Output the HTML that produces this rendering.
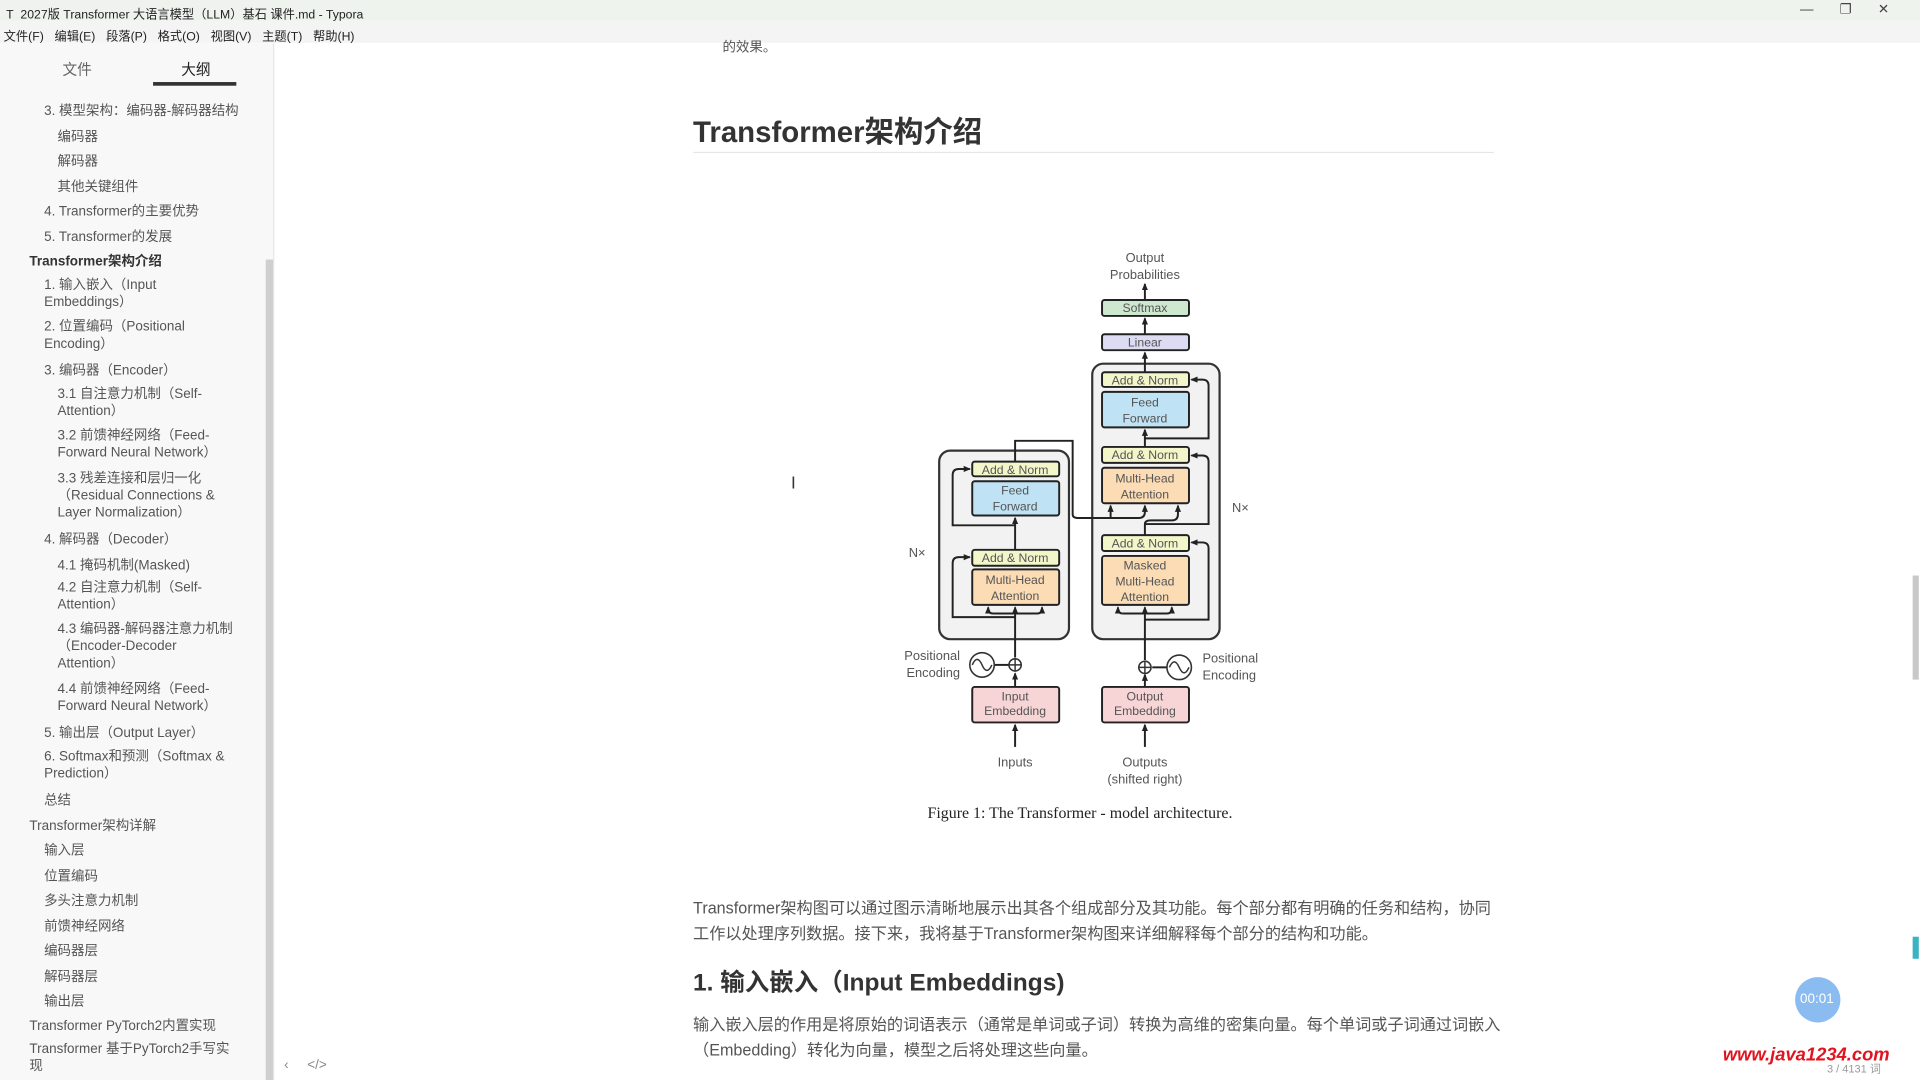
<!DOCTYPE html>
<html><head><meta charset="utf-8"><style>
html,body{margin:0;padding:0;width:1920px;height:1080px;overflow:hidden;background:#fff}
#w{position:absolute;left:0;top:0;width:1568px;height:882px;transform:scale(1.22449);transform-origin:0 0;font-family:"Liberation Sans","Noto Sans CJK SC",sans-serif;color:#333}
.a{position:absolute;white-space:nowrap}
.side .a{font-size:11px;color:#555}
</style></head><body><div id="w">
<div class="a" style="left:0;top:0;width:1568px;height:17px;background:#eef3ee"></div>
<div class="a" style="left:5px;top:3px;font-size:10px;color:#222">T&nbsp;&nbsp;2027版 Transformer 大语言模型（LLM）基石 课件.md - Typora</div>
<div class="a" style="left:1470px;top:1px;font-size:11px;color:#444">—&nbsp;&nbsp;&nbsp;&nbsp;&nbsp;&nbsp;&nbsp;❐&nbsp;&nbsp;&nbsp;&nbsp;&nbsp;&nbsp;&nbsp;✕</div>
<div class="a" style="left:0;top:17px;width:1568px;height:18px;background:#f4f4f4"></div>
<div class="a" style="left:3px;top:21px;font-size:10px;color:#222;word-spacing:6px">文件(F) 编辑(E) 段落(P) 格式(O) 视图(V) 主题(T) 帮助(H)</div>
<div class="side">
<div class="a" style="left:0;top:35px;width:223px;height:847px;background:#f8f8f8;border-right:1px solid #e6e6e6"></div>
<div class="a" style="left:217px;top:212px;width:6px;height:670px;background:#cfcfcf"></div>
<div class="a" style="left:51px;top:48px;font-size:12px;color:#666">文件</div>
<div class="a" style="left:148px;top:48px;font-size:12px;color:#222">大纲</div>
<div class="a" style="left:125px;top:67px;width:68px;height:3px;background:#333"></div>
<div class="a" style="left:36px;top:82px">3. 模型架构：编码器-解码器结构</div>
<div class="a" style="left:47px;top:103px">编码器</div>
<div class="a" style="left:47px;top:123px">解码器</div>
<div class="a" style="left:47px;top:144px">其他关键组件</div>
<div class="a" style="left:36px;top:164px">4. Transformer的主要优势</div>
<div class="a" style="left:36px;top:185px">5. Transformer的发展</div>
<div class="a" style="left:24px;top:205px;font-weight:bold;color:#333">Transformer架构介绍</div>
<div class="a" style="left:36px;top:226px;line-height:14px">1. 输入嵌入（Input<br>Embeddings）</div>
<div class="a" style="left:36px;top:260px;line-height:14px">2. 位置编码（Positional<br>Encoding）</div>
<div class="a" style="left:36px;top:294px">3. 编码器（Encoder）</div>
<div class="a" style="left:47px;top:315px;line-height:14px">3.1 自注意力机制（Self-<br>Attention）</div>
<div class="a" style="left:47px;top:349px;line-height:14px">3.2 前馈神经网络（Feed-<br>Forward Neural Network）</div>
<div class="a" style="left:47px;top:384px;line-height:14px">3.3 残差连接和层归一化<br>（Residual Connections &amp;<br>Layer Normalization）</div>
<div class="a" style="left:36px;top:432px">4. 解码器（Decoder）</div>
<div class="a" style="left:47px;top:453px">4.1 掩码机制(Masked)</div>
<div class="a" style="left:47px;top:473px;line-height:14px">4.2 自注意力机制（Self-<br>Attention）</div>
<div class="a" style="left:47px;top:507px;line-height:14px">4.3 编码器-解码器注意力机制<br>（Encoder-Decoder<br>Attention）</div>
<div class="a" style="left:47px;top:556px;line-height:14px">4.4 前馈神经网络（Feed-<br>Forward Neural Network）</div>
<div class="a" style="left:36px;top:590px">5. 输出层（Output Layer）</div>
<div class="a" style="left:36px;top:611px;line-height:14px">6. Softmax和预测（Softmax &amp;<br>Prediction）</div>
<div class="a" style="left:36px;top:645px">总结</div>
<div class="a" style="left:24px;top:666px">Transformer架构详解</div>
<div class="a" style="left:36px;top:686px">输入层</div>
<div class="a" style="left:36px;top:707px">位置编码</div>
<div class="a" style="left:36px;top:727px">多头注意力机制</div>
<div class="a" style="left:36px;top:748px">前馈神经网络</div>
<div class="a" style="left:36px;top:768px">编码器层</div>
<div class="a" style="left:36px;top:789px">解码器层</div>
<div class="a" style="left:36px;top:809px">输出层</div>
<div class="a" style="left:24px;top:829px">Transformer PyTorch2内置实现</div>
<div class="a" style="left:24px;top:850px;line-height:14px">Transformer 基于PyTorch2手写实<br>现</div>
</div>
<div class="a" style="left:232px;top:864px;font-size:11px;color:#888">‹&nbsp;&nbsp;&nbsp;&nbsp;&nbsp;&lt;/&gt;</div>
<div class="a" style="left:590px;top:30px;font-size:11px;color:#555">的效果。</div>
<div class="a" style="left:566px;top:88px;font-size:24px;font-weight:bold;color:#333">Transformer架构介绍</div>
<div class="a" style="left:566px;top:124px;width:654px;height:1px;background:#e6e6e6"></div>
<div class="a" style="left:646px;top:386px;font-size:14px;color:#333">I</div>

<svg class="a" style="left:0;top:0" width="1568" height="882" viewBox="0 0 1568 882" font-family="Liberation Sans, sans-serif" font-size="10.5">
<defs><marker id="m" markerUnits="userSpaceOnUse" markerWidth="6" markerHeight="6" refX="5" refY="3" orient="auto"><path d="M0,0.5L6,3L0,5.5z" fill="#222"/></marker></defs>
<g fill="#555" text-anchor="middle">
<text x="935" y="214">Output</text><text x="935" y="228">Probabilities</text>
<text x="829" y="626">Inputs</text>
<text x="935" y="626">Outputs</text><text x="935" y="640">(shifted right)</text>
<text x="749" y="455">N×</text><text x="1013" y="418">N×</text>
</g>
<g fill="#555"><text x="784" y="539" text-anchor="end">Positional</text><text x="784" y="553" text-anchor="end">Encoding</text>
<text x="982" y="541">Positional</text><text x="982" y="555">Encoding</text></g>
<rect x="767" y="368" width="106" height="154" rx="9" fill="#f2f2f2" stroke="#333" stroke-width="1.8"/>
<rect x="892" y="297" width="104" height="225" rx="9" fill="#f2f2f2" stroke="#333" stroke-width="1.8"/>
<g stroke="#222" stroke-width="1.6" fill="none">
<path d="M935 245V232" marker-end="url(#m)"/><path d="M935 273V260" marker-end="url(#m)"/><path d="M935 304V288" marker-end="url(#m)"/>
<path d="M935 365V351" marker-end="url(#m)"/><path d="M935 437V428Q935 425 940 425H957Q962 425 962 420V413" marker-end="url(#m)"/>
<path d="M829 377V360H876V420Q876 423 880 423H930Q935 423 935 418V413" marker-end="url(#m)"/>
<path d="M907 423V413" marker-end="url(#m)"/>
<path d="M829 449V423" marker-end="url(#m)"/>
<path d="M829 610V592" marker-end="url(#m)"/><path d="M935 610V592" marker-end="url(#m)"/>
<path d="M829 561V550" marker-end="url(#m)"/><path d="M935 561V551" marker-end="url(#m)"/>
<path d="M829 537V496" marker-end="url(#m)"/><path d="M935 539V496" marker-end="url(#m)"/>
<path d="M812 543H824"/><path d="M941 545H953"/>
<path d="M829 504H778V460Q778 455 783 455H792" marker-end="url(#m)"/>
<path d="M829 429H778V388Q778 383 783 383H792" marker-end="url(#m)"/>
<path d="M811 501Q807 501 807 497V496" marker-end="url(#m)"/><path d="M811 501H847Q851 501 851 497V496" marker-end="url(#m)"/>
<path d="M935 506H987V448Q987 443 982 443H973" marker-end="url(#m)"/>
<path d="M935 428H987V377Q987 372 982 372H973" marker-end="url(#m)"/>
<path d="M935 358H987V315Q987 310 982 310H973" marker-end="url(#m)"/>
<path d="M917 501Q913 501 913 497V496" marker-end="url(#m)"/><path d="M917 501H953Q957 501 957 497V496" marker-end="url(#m)"/>
</g>
<g stroke="#222" stroke-width="1.6">
<rect x="900" y="245" width="71" height="13" rx="2" fill="#cde8cf"/>
<rect x="900" y="273" width="71" height="13" rx="2" fill="#dcdcf2"/>
<rect x="900" y="304" width="71" height="12" rx="2" fill="#f2f6c8"/>
<rect x="900" y="320" width="71" height="29" rx="2" fill="#bfe3f4"/>
<rect x="900" y="365" width="71" height="13" rx="2" fill="#f2f6c8"/>
<rect x="900" y="382" width="71" height="29" rx="2" fill="#fbdcb5"/>
<rect x="900" y="437" width="71" height="13" rx="2" fill="#f2f6c8"/>
<rect x="900" y="454" width="71" height="40" rx="2" fill="#fbdcb5"/>
<rect x="794" y="377" width="71" height="12" rx="2" fill="#f2f6c8"/>
<rect x="794" y="393" width="71" height="28" rx="2" fill="#bfe3f4"/>
<rect x="794" y="449" width="71" height="13" rx="2" fill="#f2f6c8"/>
<rect x="794" y="465" width="71" height="29" rx="2" fill="#fbdcb5"/>
<rect x="794" y="561" width="71" height="29" rx="2" fill="#f7d5d6"/>
<rect x="900" y="561" width="71" height="29" rx="2" fill="#f7d5d6"/>
</g>
<g stroke="#333" stroke-width="1.3" fill="#fff">
<circle cx="802" cy="543" r="10"/><circle cx="963" cy="545" r="10"/>
<circle cx="829" cy="543" r="5"/><circle cx="935" cy="545" r="5"/>
</g>
<g stroke="#333" stroke-width="1.2" fill="none">
<path d="M824 543H834M829 538V548M930 545H940M935 540V550"/>
<path d="M794 543Q798 534 802 543T810 543"/><path d="M955 545Q959 536 963 545T971 545"/>
</g>
<g fill="#555" text-anchor="middle" font-size="10">
<text x="935" y="255">Softmax</text><text x="935" y="283">Linear</text>
<text x="935" y="314">Add &amp; Norm</text><text x="935" y="332">Feed</text><text x="935" y="345">Forward</text>
<text x="935" y="375">Add &amp; Norm</text><text x="935" y="394">Multi-Head</text><text x="935" y="407">Attention</text>
<text x="935" y="447">Add &amp; Norm</text><text x="935" y="465">Masked</text><text x="935" y="478">Multi-Head</text><text x="935" y="491">Attention</text>
<text x="829" y="387">Add &amp; Norm</text><text x="829" y="404">Feed</text><text x="829" y="417">Forward</text>
<text x="829" y="459">Add &amp; Norm</text><text x="829" y="477">Multi-Head</text><text x="829" y="490">Attention</text>
<text x="829" y="572">Input</text><text x="829" y="584">Embedding</text>
<text x="935" y="572">Output</text><text x="935" y="584">Embedding</text>
</g>
<text x="882" y="668" text-anchor="middle" font-family="Liberation Serif, serif" font-size="13" fill="#222">Figure 1: The Transformer - model architecture.</text>
</svg>

<div class="a" style="left:566px;top:731px;font-size:13.2px;line-height:21px;color:#555">Transformer架构图可以通过图示清晰地展示出其各个组成部分及其功能。每个部分都有明确的任务和结构，协同<br>工作以处理序列数据。接下来，我将基于Transformer架构图来详细解释每个部分的结构和功能。</div>
<div class="a" style="left:566px;top:786px;font-size:20px;font-weight:bold;color:#333">1. 输入嵌入（Input Embeddings)</div>
<div class="a" style="left:566px;top:826px;font-size:13.2px;line-height:21px;color:#555">输入嵌入层的作用是将原始的词语表示（通常是单词或子词）转换为高维的密集向量。每个单词或子词通过词嵌入<br>（Embedding）转化为向量，模型之后将处理这些向量。</div>
<div class="a" style="left:1562px;top:470px;width:5px;height:85px;background:#c8c8c8"></div>
<div class="a" style="left:1562px;top:765px;width:5px;height:18px;background:#3bb3c3"></div>
<div class="a" style="left:1466px;top:798px;width:37px;height:37px;border-radius:50%;background:#7db5ef;opacity:.9"></div>
<div class="a" style="left:1470px;top:810px;font-size:11px;color:#fff">00:01</div>
<div class="a" style="left:1407px;top:853px;font-size:15px;font-weight:bold;font-style:italic;color:#e0141e">www.java1234.com</div>
<div class="a" style="left:1492px;top:866px;font-size:9px;color:#999">3 / 4131 词</div>
</div></body></html>
